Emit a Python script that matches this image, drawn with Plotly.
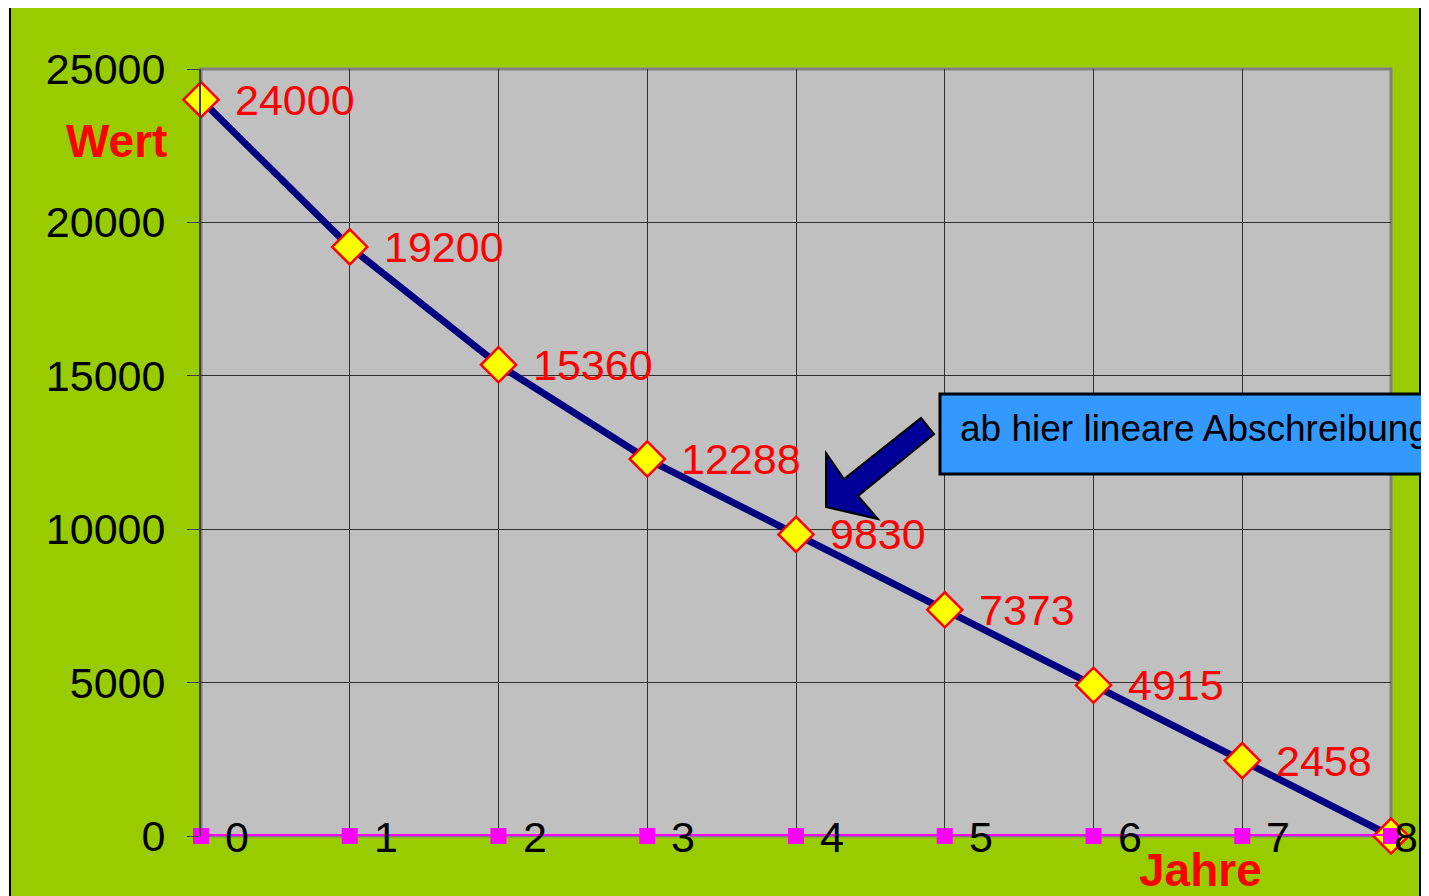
import plotly.graph_objects as go

years = [0, 1, 2, 3, 4, 5, 6, 7, 8]
werte = [24000, 19200, 15360, 12288, 9830, 7373, 4915, 2458, 0]
nulllinie = [0, 0, 0, 0, 0, 0, 0, 0, 0]
wert_labels = ["24000", "19200", "15360", "12288", "9830", "7373", "4915", "2458", ""]
jahr_labels = ["0", "1", "2", "3", "4", "5", "6", "7", "8"]
y_ticks = [0, 5000, 10000, 15000, 20000, 25000]
y_ticktext = ["0", "5000", "10000", "15000", "20000", "25000"]

W, H = 1429, 896
OX, OY = 8, 8  # page body margin
# plot area in screen pixels
SL, SR, ST, SB = 201, 1391, 69, 836
L, R, T, B = SL - OX, SR - OX, ST - OY, SB - OY
PW, PH = R - L, B - T

def px(x):
    return (x - OX - L) / PW

def py(y):
    return (B - (y - OY)) / PH

FONT = "Arial, Liberation Sans, sans-serif"

fig = go.Figure()
fig.add_trace(go.Scatter(
    x=years, y=werte, mode="lines+markers",
    line=dict(color="#000080", width=7),
    marker=dict(symbol="diamond", size=27, color="#FFFF00", line=dict(color="#FF0000", width=2.5)),
    cliponaxis=False, showlegend=False, hoverinfo="skip"))
fig.add_trace(go.Scatter(
    x=years, y=nulllinie, mode="lines+markers",
    line=dict(color="#FF00FF", width=4),
    marker=dict(symbol="square", size=16, color="#FF00FF"),
    cliponaxis=False, showlegend=False, hoverinfo="skip"))

annotations = []
for xv, yv, t in zip(years, werte, wert_labels):
    if t:
        annotations.append(dict(x=xv, y=yv, text=t, showarrow=False, xanchor="left", yanchor="middle",
                                xshift=32, font=dict(family=FONT, size=43, color="#FF0000")))
n = len(years)
for i, (xv, yv, t) in enumerate(zip(years, nulllinie, jahr_labels)):
    annotations.append(dict(x=xv, y=yv, text=t, showarrow=False, xanchor="left", yanchor="middle",
                            xshift=22 if i < n - 1 else 1, yshift=-1,
                            font=dict(family=FONT, size=43, color="#000000")))
annotations.append(dict(xref="paper", yref="paper", x=px(116), y=py(141), text="<b>Wert</b>",
                        showarrow=False, xanchor="center", yanchor="middle",
                        font=dict(family=FONT, size=46, color="#FF0000")))
annotations.append(dict(xref="paper", yref="paper", x=px(1200), y=py(870), text="<b>Jahre</b>",
                        showarrow=False, xanchor="center", yanchor="middle",
                        font=dict(family=FONT, size=46, color="#FF0000")))
annotations.append(dict(xref="paper", yref="paper", x=px(958), y=py(428), text="ab hier lineare Abschreibung",
                        showarrow=False, xanchor="left", yanchor="middle",
                        font=dict(family=FONT, size=37, color="#000000")))

shapes = []
# green frame
shapes.append(dict(type="rect", xref="paper", yref="paper", layer="below",
                   x0=px(10), x1=px(1420), y0=py(7), y1=py(910),
                   fillcolor="#99CC00", line=dict(color="#000000", width=2)))
# plot area background + border
shapes.append(dict(type="rect", xref="paper", yref="paper", layer="below",
                   x0=0, x1=1, y0=0, y1=1, fillcolor="#C0C0C0", line=dict(color="#808080", width=3)))
# callout box
shapes.append(dict(type="rect", xref="paper", yref="paper", layer="above",
                   x0=px(940), x1=px(1470), y0=py(394), y1=py(474),
                   fillcolor="#3399FF", line=dict(color="#000000", width=3)))
# block arrow
pts = [(921, 418), (934, 434), (858, 496), (878, 519), (826, 507), (826, 453), (844, 479)]
path = "M " + " L ".join(f"{px(a):.5f},{py(b):.5f}" for a, b in pts) + " Z"
shapes.append(dict(type="path", xref="paper", yref="paper", layer="above", path=path,
                   fillcolor="#000099", line=dict(color="#000000", width=2)))

fig.update_layout(
    width=W, height=H,
    margin=dict(l=L, r=W - R, t=T, b=H - B),
    paper_bgcolor="#FFFFCC", plot_bgcolor="rgba(0,0,0,0)",
    shapes=shapes, annotations=annotations,
    font=dict(family=FONT, size=43, color="#000000"),
)
fig.update_xaxes(range=[0, 8], tickvals=years, showticklabels=False, showgrid=True,
                 gridcolor="#303030", gridwidth=1, zeroline=False, showline=False, ticks="")
fig.update_yaxes(range=[0, 25000], tickvals=y_ticks, ticktext=y_ticktext, showgrid=True,
                 gridcolor="#303030", gridwidth=1,
                 zeroline=False, showline=True, linecolor="#404040", linewidth=2,
                 ticks="outside", ticklen=12, tickcolor="#404040", ticklabelstandoff=13,
                 tickfont=dict(family=FONT, size=43, color="#000000"))

fig.write_html("out.html")
